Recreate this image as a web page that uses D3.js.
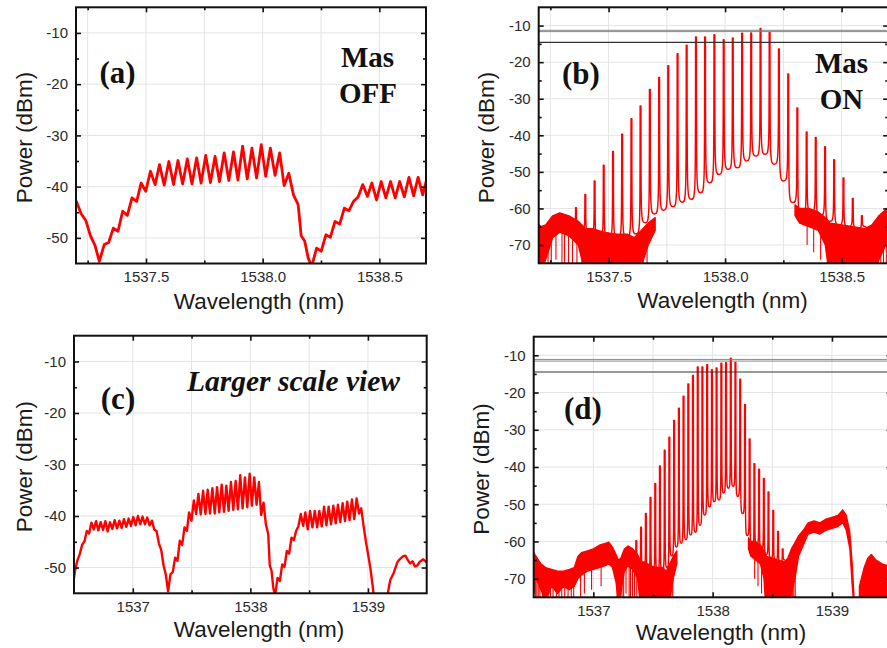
<!DOCTYPE html>
<html>
<head>
<meta charset="utf-8">
<script src="https://cdn.jsdelivr.net/npm/d3@7"></script>
<style>
  html, body { margin: 0; padding: 0; background: #fff; }
  svg { display: block; }
</style>
</head>
<body>
<svg id="fig" width="887" height="648"></svg>
<script>
// ---------------- data ----------------
// Tick values
const xTicksFine = [1537.5, 1538.0, 1538.5];
const xMinorFine = [1537.25, 1537.75, 1538.25];
const xTicksWide = [1537, 1538, 1539];
const xMinorWide = [1537.5, 1538.5];
const yTicksOff = [-10, -20, -30, -40, -50];
const yMinorOff = [-15, -25, -35, -45];
const yTicksOn = [-10, -20, -30, -40, -50, -60, -70];
const yMinorOn = [-15, -25, -35, -45, -55, -65];

// Spectrum with the master laser OFF: wavelength (nm) and power (dBm)
const offWl = [
  1536.490, 1536.510, 1536.529, 1536.549, 1536.569, 1536.589, 1536.609, 1536.628, 1536.648, 1536.668,
  1536.688, 1536.707, 1536.727, 1536.747, 1536.767, 1536.786, 1536.806, 1536.826, 1536.846, 1536.866,
  1536.886, 1536.905, 1536.925, 1536.945, 1536.965, 1536.985, 1537.004, 1537.024, 1537.044, 1537.064,
  1537.083, 1537.103, 1537.123, 1537.143, 1537.163, 1537.182, 1537.202, 1537.222, 1537.242, 1537.262,
  1537.281, 1537.300, 1537.321, 1537.340, 1537.360, 1537.380, 1537.400, 1537.420, 1537.440, 1537.460,
  1537.479, 1537.499, 1537.519, 1537.539, 1537.558, 1537.578, 1537.598, 1537.618, 1537.637, 1537.657,
  1537.677, 1537.697, 1537.717, 1537.736, 1537.756, 1537.776, 1537.796, 1537.815, 1537.835, 1537.855,
  1537.875, 1537.894, 1537.914, 1537.934, 1537.954, 1537.974, 1537.994, 1538.013, 1538.033, 1538.053,
  1538.073, 1538.092, 1538.112, 1538.132, 1538.152, 1538.165, 1538.180, 1538.195, 1538.210, 1538.231,
  1538.251, 1538.271, 1538.290, 1538.310, 1538.330, 1538.350, 1538.370, 1538.389, 1538.409, 1538.429,
  1538.449, 1538.468, 1538.488, 1538.508, 1538.528, 1538.548, 1538.568, 1538.587, 1538.607, 1538.627,
  1538.647, 1538.666, 1538.686, 1538.706, 1538.726, 1538.745, 1538.765, 1538.785, 1538.805, 1538.824,
  1538.844, 1538.864, 1538.884, 1538.904, 1538.924, 1538.943, 1538.963, 1538.983, 1539.002, 1539.022,
  1539.040, 1539.055, 1539.080, 1539.130, 1539.165, 1539.190, 1539.220, 1539.250, 1539.270, 1539.300,
  1539.320, 1539.340, 1539.360, 1539.380, 1539.400, 1539.420, 1539.440, 1539.470, 1539.500
];
const offDbm = [
  -53.5, -50.5, -48.6, -47.4, -45.6, -44.9, -42.9, -43.4, -41.3, -42.6,
  -41.0, -42.8, -41.2, -42.7, -41.0, -43.0, -41.2, -42.5, -40.8, -42.4,
  -40.9, -42.3, -40.6, -42.1, -40.5, -41.9, -40.2, -41.8, -40.0, -41.6,
  -40.1, -41.6, -40.3, -41.8, -40.9, -42.6, -42.9, -45.3, -46.6, -49.6,
  -51.4, -54.6, -51.3, -50.9, -48.1, -48.7, -44.8, -45.6, -42.2, -42.9,
  -39.3, -40.9, -37.0, -39.6, -35.7, -39.7, -35.1, -39.6, -34.9, -39.5,
  -34.6, -39.5, -34.4, -39.3, -33.9, -39.2, -34.1, -39.0, -33.4, -38.8,
  -33.2, -38.7, -32.1, -38.5, -32.5, -38.3, -31.8, -38.0, -32.5, -37.8,
  -33.4, -39.8, -37.4, -41.6, -43.5, -49.6, -50.6, -53.9, -55.6, -52.0,
  -52.6, -49.4, -49.9, -46.8, -47.3, -44.2, -44.7, -42.9, -42.0, -39.6,
  -41.9, -39.3, -42.6, -39.0, -42.2, -39.0, -42.2, -39.0, -42.0, -38.2,
  -41.8, -38.2, -41.6, -38.0, -41.4, -37.8, -41.2, -37.5, -41.0, -37.2,
  -40.8, -36.8, -40.6, -36.6, -39.5, -38.5, -41.9, -45.0, -47.5, -50.3,
  -53.5, -56.5, -58.0, -58.0, -55.5, -52.4, -51.0, -49.0, -48.4, -47.8,
  -47.7, -48.6, -49.2, -48.8, -49.8, -49.6, -48.9, -48.4, -49.0
];

// Spectrum with the master laser ON: comb lines (nm), their peak power and the
// floor level reached just after each line (dBm)
const combWl = [
  1537.321, 1537.360, 1537.400, 1537.440, 1537.479, 1537.519, 1537.558, 1537.598, 1537.637, 1537.677,
  1537.717, 1537.756, 1537.796, 1537.835, 1537.875, 1537.914, 1537.954, 1537.994, 1538.033, 1538.073,
  1538.112, 1538.152, 1538.191, 1538.231, 1538.271, 1538.310, 1538.350, 1538.389, 1538.429, 1538.468,
  1538.508, 1538.548, 1538.587
];
const combPeak = [
  -62.0, -59.8, -56.2, -52.5, -48.2, -44.4, -39.7, -35.5, -32.0, -27.5,
  -24.2, -21.0, -17.7, -15.4, -13.1, -13.1, -12.5, -13.9, -13.4, -12.1,
  -12.0, -10.8, -11.9, -16.4, -23.2, -32.5, -39.1, -40.6, -43.1, -46.7,
  -51.7, -57.3, -62.0
];
const combTrough = [
  -64.0, -66.0, -67.0, -68.0, -68.0, -68.0, -68.0, -67.0, -63.9, -61.5,
  -60.5, -59.5, -58.3, -57.5, -55.7, -53.0, -50.7, -49.3, -48.9, -47.0,
  -45.7, -45.2, -47.9, -52.5, -58.4, -62.0, -61.0, -62.0, -63.5, -64.5,
  -65.0, -65.5, -65.0
];

// Noise floor of the ON spectrum: upper and lower envelope (dBm); null splits segments
const noiseWl = [
  1536.490, 1536.520, 1536.560, 1536.600, 1536.650, 1536.700, 1536.750, 1536.800, 1536.840, 1536.870,
  1536.900, 1536.950, 1537.000, 1537.050, 1537.100, 1537.130, 1537.160, 1537.190, 1537.210, 1537.230,
  1537.260, 1537.290, 1537.330, 1537.370, 1537.400, 1537.430, 1537.480, 1537.530, 1537.580, 1537.610,
  1537.640, 1537.670, 1537.700, null,
  1538.300, 1538.320, 1538.360, 1538.400, 1538.430, 1538.450, 1538.500, 1538.550, 1538.600, 1538.630,
  1538.660, 1538.690, 1538.720, 1538.760, 1538.800, 1538.850, 1538.900, 1538.950, 1539.000, 1539.050,
  1539.090, 1539.120, 1539.150, 1539.170, 1539.190, null,
  1539.230, 1539.270, 1539.300, 1539.330, 1539.370, 1539.420, 1539.470, 1539.500
];
const noiseTop = [
  -62.5, -64.0, -66.0, -67.0, -67.5, -68.0, -68.0, -67.5, -67.0, -64.0,
  -63.0, -62.5, -62.0, -61.0, -60.5, -60.2, -61.5, -63.5, -65.0, -64.5,
  -62.0, -61.2, -62.0, -63.5, -65.5, -65.5, -66.5, -67.0, -67.0, -68.0,
  -66.0, -64.0, -62.5, null,
  -59.0, -60.0, -60.0, -61.0, -62.5, -64.0, -64.5, -65.0, -65.5, -64.5,
  -62.0, -60.3, -58.5, -57.0, -55.0, -54.5, -55.0, -54.0, -53.5, -53.0,
  -51.5, -53.0, -57.5, -66.0, -78.0, null,
  -72.0, -67.0, -64.5, -63.5, -65.0, -66.0, -66.5, -66.0
];
const noiseBottom = [
  -67.0, -70.0, -73.0, -76.0, -72.0, -74.0, -72.0, -73.0, -72.0, -70.0,
  -69.0, -68.0, -67.5, -67.0, -66.5, -66.0, -67.0, -71.0, -77.0, -74.0,
  -68.0, -66.5, -67.5, -70.0, -78.0, -80.0, -80.0, -80.0, -80.0, -80.0,
  -76.0, -70.0, -66.0, null,
  -62.0, -64.0, -65.0, -66.0, -70.0, -80.0, -80.0, -80.0, -80.0, -80.0,
  -74.0, -70.0, -64.0, -61.0, -58.0, -57.5, -58.0, -57.0, -56.5, -56.0,
  -55.0, -57.0, -62.0, -72.0, -80.0, null,
  -80.0, -80.0, -80.0, -78.0, -80.0, -80.0, -80.0, -80.0
];

// Single deep noise spikes below the floor: wavelength (nm) and lowest power (dBm)
const dipWl = [
  1536.497, 1536.505, 1536.514, 1536.526, 1536.538, 1536.552, 1536.575, 1536.596, 1536.618, 1536.640,
  1536.662, 1536.690, 1536.712, 1536.735, 1536.760, 1536.788, 1536.815, 1536.835, 1536.893, 1536.925,
  1536.985, 1537.065, 1537.200, 1537.212, 1537.226, 1537.240, 1537.254, 1537.274, 1537.300, 1537.311,
  1537.328, 1537.345, 1537.364, 1537.386, 1537.625, 1537.648, 1537.665, 1538.352, 1538.380, 1538.410,
  1538.640, 1538.655, 1538.668, 1538.680, 1538.692
];
const dipDbm = [
  -80, -74, -80, -76, -80, -80, -78, -80, -80, -77,
  -80, -80, -78, -80, -80, -80, -77, -80, -80, -74,
  -73, -72, -80, -80, -80, -80, -77, -74, -80, -80,
  -80, -80, -80, -80, -80, -80, -76, -70, -72, -74,
  -80, -80, -80, -78, -76
];

// Power levels of the horizontal marker lines (dBm)
const markerLevelsB = [-11.3, -11.65, -14.6];
const markerLevelsD = [-11.1, -11.55, -14.5];

// ---------------- drawing ----------------
const svg = d3.select('#fig');
const defs = svg.append('defs');
const RED = '#ff0000';
const SANS = '"Liberation Sans", Arial, sans-serif';
const SERIF = '"Liberation Serif", "Times New Roman", serif';

function drawOff(plot, x, y, width) {
  const line = d3.line()
    .x((d, i) => x(offWl[i]))
    .y(d => y(d));
  plot.append('path')
    .datum(offDbm)
    .attr('d', line)
    .attr('fill', 'none')
    .attr('stroke', RED)
    .attr('stroke-width', width)
    .attr('stroke-linejoin', 'round');
}

function bandAt(w, arr) {
  for (let i = 0; i < noiseWl.length - 1; i++) {
    const a = noiseWl[i], b = noiseWl[i + 1];
    if (a == null || b == null) continue;
    if (w >= a && w <= b) {
      const f = (w - a) / (b - a);
      return arr[i] + (arr[i + 1] - arr[i]) * f;
    }
  }
  return null;
}

function drawOn(plot, x, y, markers) {
  // noise floor
  const band = noiseWl.map((w, i) => ({ w, top: noiseTop[i], bot: noiseBottom[i] }));
  const area = d3.area()
    .defined(d => d.w != null)
    .x(d => x(d.w))
    .y0(d => y(d.bot))
    .y1(d => y(d.top));
  plot.append('path')
    .datum(band)
    .attr('d', area)
    .attr('fill', RED)
    .attr('stroke', RED)
    .attr('stroke-width', 1.3)
    .attr('stroke-linejoin', 'round');

  // deep noise spikes
  plot.append('g').selectAll('line')
    .data(dipWl.map((w, i) => ({ w, v: dipDbm[i], from: bandAt(w, noiseTop) })).filter(d => d.from != null))
    .join('line')
    .attr('x1', d => x(d.w)).attr('x2', d => x(d.w))
    .attr('y1', d => y(d.from)).attr('y2', d => y(d.v))
    .attr('stroke', RED)
    .attr('stroke-width', 1.1);

  // comb lines: cusp-shaped skirts rising from the floor to each peak
  const p = d3.path();
  const n = combWl.length;
  const mid = i => {
    if (i < 0) return combWl[0] - (combWl[1] - combWl[0]) / 2;
    if (i >= n - 1) return combWl[n - 1] + (combWl[n - 1] - combWl[n - 2]) / 2;
    return (combWl[i] + combWl[i + 1]) / 2;
  };
  let ym = y(combTrough[0]);
  p.moveTo(x(mid(-1)), ym);
  combWl.forEach((w, i) => {
    const xk = x(w), yp = y(combPeak[i]);
    const yt = y(combTrough[i]);
    const xn = x(mid(i));
    p.bezierCurveTo(xk - 0.4, ym, xk - 0.4, ym, xk - 0.4, yp);
    p.lineTo(xk + 0.4, yp);
    p.bezierCurveTo(xk + 0.4, yt, xk + 0.4, yt, xn, yt);
    ym = yt;
  });
  plot.append('path')
    .attr('d', p.toString())
    .attr('fill', 'none')
    .attr('stroke', RED)
    .attr('stroke-width', 1.45)
    .attr('stroke-linejoin', 'round');

  // marker lines
  plot.append('g').selectAll('line')
    .data(markers)
    .join('line')
    .attr('x1', x.range()[0]).attr('x2', x.range()[1])
    .attr('y1', d => y(d)).attr('y2', d => y(d))
    .attr('stroke', (d, i) => i < 2 ? '#7a7a7a' : '#333')
    .attr('stroke-width', (d, i) => i < 2 ? 0.9 : 1.1);
}

function panel(cfg) {
  const { l, t, r, b } = cfg.box;
  const x = d3.scaleLinear().domain(cfg.xDomain).range([l, r]);
  const y = d3.scaleLinear().domain(cfg.yDomain).range([b, t]);
  const g = svg.append('g');

  const clipId = 'clip-' + cfg.id;
  defs.append('clipPath').attr('id', clipId)
    .append('rect').attr('x', l).attr('y', t).attr('width', r - l).attr('height', b - t);

  // grid
  g.append('g').selectAll('line')
    .data(cfg.xMajor.concat(cfg.xMinor))
    .join('line')
    .attr('x1', d => x(d)).attr('x2', d => x(d))
    .attr('y1', t).attr('y2', b)
    .attr('stroke', '#e4e4e4').attr('stroke-width', 1);
  g.append('g').selectAll('line')
    .data(cfg.yMajor)
    .join('line')
    .attr('x1', l).attr('x2', r)
    .attr('y1', d => y(d)).attr('y2', d => y(d))
    .attr('stroke', '#e4e4e4').attr('stroke-width', 1);

  // data
  const plot = g.append('g').attr('clip-path', `url(#${clipId})`);
  cfg.draw(plot, x, y);

  // axes with inward ticks on all four sides
  const styleAxis = s => {
    s.select('.domain').remove();
    s.selectAll('.tick line').attr('stroke', '#111').attr('stroke-width', 1.6);
    s.selectAll('.tick text')
      .attr('fill', '#2a2a2a')
      .attr('font-family', SANS)
      .attr('font-size', 15);
  };
  const add = (gen, tr) => g.append('g').attr('transform', tr).call(gen).call(styleAxis);

  add(d3.axisLeft(y).tickValues(cfg.yMajor).tickSize(-5).tickPadding(8).tickFormat(d => String(d)),
      `translate(${l},0)`);
  add(d3.axisLeft(y).tickValues(cfg.yMinor).tickSize(-3).tickFormat(''), `translate(${l},0)`);
  add(d3.axisRight(y).tickValues(cfg.yMajor).tickSize(-5).tickFormat(''), `translate(${r},0)`);
  add(d3.axisRight(y).tickValues(cfg.yMinor).tickSize(-3).tickFormat(''), `translate(${r},0)`);
  add(d3.axisBottom(x).tickValues(cfg.xMajor).tickSize(-5).tickPadding(8).tickFormat(cfg.xFormat),
      `translate(0,${b})`);
  add(d3.axisBottom(x).tickValues(cfg.xMinor).tickSize(-3).tickFormat(''), `translate(0,${b})`);
  add(d3.axisTop(x).tickValues(cfg.xMajor).tickSize(-5).tickFormat(''), `translate(0,${t})`);
  add(d3.axisTop(x).tickValues(cfg.xMinor).tickSize(-3).tickFormat(''), `translate(0,${t})`);

  // frame
  g.append('rect')
    .attr('x', l).attr('y', t).attr('width', r - l).attr('height', b - t)
    .attr('fill', 'none').attr('stroke', '#111').attr('stroke-width', 2);

  // axis titles
  g.append('text')
    .attr('x', cfg.xTitle[0]).attr('y', cfg.xTitle[1])
    .attr('text-anchor', 'middle')
    .attr('font-family', SANS).attr('font-size', 22.5).attr('fill', '#1a1a1a')
    .text('Wavelength (nm)');
  g.append('text')
    .attr('transform', `translate(${cfg.yTitle[0]},${cfg.yTitle[1]}) rotate(-90)`)
    .attr('text-anchor', 'middle')
    .attr('font-family', SANS).attr('font-size', 22.5).attr('fill', '#1a1a1a')
    .text('Power (dBm)');

  // annotations
  cfg.notes.forEach(nt => {
    g.append('text')
      .attr('x', nt.x).attr('y', nt.y)
      .attr('text-anchor', 'middle')
      .attr('font-family', SERIF).attr('font-weight', 'bold')
      .attr('font-style', nt.italic ? 'italic' : 'normal')
      .attr('font-size', nt.size)
      .attr('fill', '#111')
      .text(nt.text);
  });
}

const fmtFine = d => d.toFixed(1);
const fmtWide = d => String(d);

panel({
  id: 'a', box: { l: 76, t: 7.3, r: 426, b: 263.5 },
  xDomain: [1537.2, 1538.7], yDomain: [-55, -5],
  xMajor: xTicksFine, xMinor: xMinorFine, yMajor: yTicksOff, yMinor: yMinorOff,
  xFormat: fmtFine, xTitle: [259, 309], yTitle: [32, 137.5],
  draw: (p, x, y) => drawOff(p, x, y, 2.8),
  notes: [
    { text: '(a)', x: 117.5, y: 83, size: 31 },
    { text: 'Mas', x: 367.5, y: 66.5, size: 29 },
    { text: 'OFF', x: 368, y: 103, size: 29 }
  ]
});

panel({
  id: 'b', box: { l: 538.7, t: 7.3, r: 888.2, b: 263.3 },
  xDomain: [1537.2, 1538.7], yDomain: [-75, -5],
  xMajor: xTicksFine, xMinor: xMinorFine, yMajor: yTicksOn, yMinor: yMinorOn,
  xFormat: fmtFine, xTitle: [722.5, 308], yTitle: [494, 137.5],
  draw: (p, x, y) => drawOn(p, x, y, markerLevelsB),
  notes: [
    { text: '(b)', x: 581, y: 83.5, size: 31 },
    { text: 'Mas', x: 841.5, y: 73, size: 29 },
    { text: 'ON', x: 841.5, y: 108.5, size: 29 }
  ]
});

panel({
  id: 'c', box: { l: 74, t: 335.7, r: 426.7, b: 593.3 },
  xDomain: [1536.5, 1539.5], yDomain: [-55, -5],
  xMajor: xTicksWide, xMinor: xMinorWide, yMajor: yTicksOff, yMinor: yMinorOff,
  xFormat: fmtWide, xTitle: [259, 637], yTitle: [32, 466.7],
  draw: (p, x, y) => drawOff(p, x, y, 2.4),
  notes: [
    { text: '(c)', x: 118, y: 408.5, size: 31 },
    { text: 'Larger scale view', x: 293.5, y: 390.5, size: 29.5, italic: true }
  ]
});

panel({
  id: 'd', box: { l: 533.7, t: 336.7, r: 891.6, b: 597.3 },
  xDomain: [1536.5, 1539.5], yDomain: [-75, -5],
  xMajor: xTicksWide, xMinor: xMinorWide, yMajor: yTicksOn, yMinor: yMinorOn,
  xFormat: fmtWide, xTitle: [721, 640], yTitle: [489, 469],
  draw: (p, x, y) => drawOn(p, x, y, markerLevelsD),
  notes: [
    { text: '(d)', x: 583, y: 418.5, size: 31 }
  ]
});
</script>
</body>
</html>
